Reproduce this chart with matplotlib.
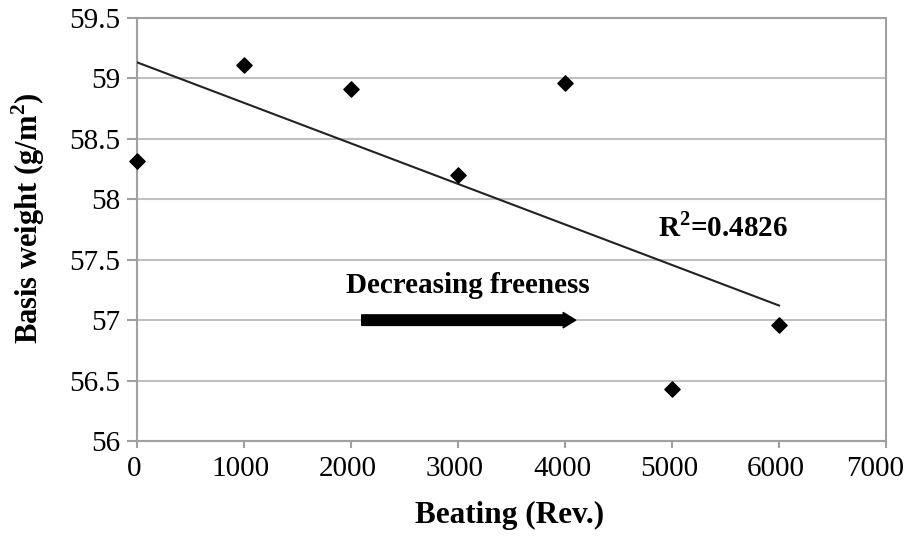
import numpy as np
import matplotlib.pyplot as plt
from matplotlib.transforms import ScaledTranslation

plt.rcParams['font.family'] = ['Liberation Serif', 'DejaVu Serif']
plt.rcParams['mathtext.fontset'] = 'custom'
plt.rcParams['mathtext.rm'] = 'Liberation Serif'
plt.rcParams['mathtext.bf'] = 'Liberation Serif:bold'

beating = [0, 1000, 2000, 3000, 4000, 5000, 6000]
basis_weight = [58.32, 59.11, 58.91, 58.20, 58.96, 56.43, 56.96]
x_ticks = [0, 1000, 2000, 3000, 4000, 5000, 6000, 7000]
y_ticks = [56, 56.5, 57, 57.5, 58, 58.5, 59, 59.5]
y_labels = ['56', '56.5', '57', '57.5', '58', '58.5', '59', '59.5']

# linear trend
k, b = np.polyfit(beating, basis_weight, 1)
xf = np.array([beating[0], beating[-1]])

fig = plt.figure(figsize=(9.09, 5.49), dpi=100)
ax = fig.add_axes([137/909, 1 - 441/549, (886-137)/909, (441-18)/549])

ax.plot(xf, k*xf + b, color='#222222', lw=1.5, zorder=3)
ax.scatter(beating, basis_weight, marker='D', s=60, color='black', zorder=4, clip_on=False)

ax.set_xlim(0, 7000)
ax.set_ylim(56, 59.5)
ax.set_xticks(x_ticks)
ax.set_yticks(y_ticks)
ax.set_yticklabels(y_labels)
ax.grid(axis='y', color='#c0c0c0', lw=1.5)
ax.set_axisbelow(True)
for s in ax.spines.values():
    s.set_color('#a0a0a0')
    s.set_linewidth(1.5)
ax.tick_params(axis='both', labelsize=21, color='#a0a0a0', width=1.5, length=7)
ax.tick_params(axis='x', length=5, pad=6)
ax.tick_params(axis='y', pad=5)

# last x label sits a bit to the left, like in the original
xl = ax.get_xticklabels()
for i, lab in enumerate(xl):
    dx = -11 if i == len(xl) - 1 else -3
    lab.set_transform(lab.get_transform() + ScaledTranslation(dx/100, 0, fig.dpi_scale_trans))

ax.annotate('', xy=(4100, 57.0), xytext=(2100, 57.0),
            arrowprops=dict(arrowstyle='simple,head_length=0.45,head_width=0.55,tail_width=0.38',
                            mutation_scale=20, color='black', shrinkA=0, shrinkB=0))
ax.text(3090, 57.29, 'Decreasing freeness', ha='center', va='center',
        fontsize=21, fontweight='bold')
ax.text(5480, 57.77, r'R$^\mathbf{2}$=0.4826', ha='center', va='center',
        fontsize=21, fontweight='bold')

ax.set_xlabel('Beating (Rev.)', fontsize=22.5, fontweight='bold')
ax.set_ylabel(r'Basis weight (g/m$^\mathbf{2}$)', fontsize=22, fontweight='bold')
ax.xaxis.label.set_va('center')
ax.yaxis.label.set_va('center')
ax.xaxis.set_label_coords(0.497, -0.175)
ax.yaxis.set_label_coords(-0.145, 0.527)

fig.savefig('out.png', dpi=100)
